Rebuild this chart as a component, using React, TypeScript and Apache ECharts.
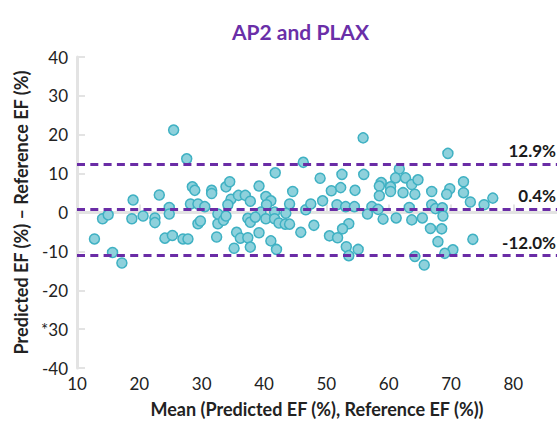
import React, { useEffect, useRef } from "react";
import * as echarts from "echarts";

const titleText = "AP2 and PLAX";
const xAxisTitle = "Mean (Predicted EF (%), Reference EF (%))";
const yAxisTitle = "Predicted EF (%) – Reference EF (%)";

const meanValues = [
  12.8, 14.1, 15.0, 15.7, 17.2, 19.0, 18.8, 20.6, 22.5, 22.5, 23.2, 24.1,
  25.5, 27.6, 24.8, 24.8, 25.3, 27.0, 27.8, 28.2, 28.5, 28.9, 29.4, 29.4,
  29.8, 30.5, 31.6, 31.6, 32.4, 32.6, 32.6, 33.5, 33.9, 33.9, 34.5, 34.7,
  34.2, 35.6, 35.9, 36.2, 35.2, 37.0, 37.4, 37.4, 37.8, 37.8, 37.8,
  46.3, 41.8, 49.0, 39.2, 40.3, 41.1, 40.4, 44.6, 44.1, 46.7, 47.5, 49.4,
  50.8, 39.5, 41.7, 38.6, 40.3, 41.7, 42.4, 43.4, 44.1, 43.5, 48.0, 45.9,
  39.2, 41.1, 42.0, 50.5,
  55.9, 52.5, 56.0, 61.7, 61.1, 62.7, 58.8, 58.5, 60.3, 60.3, 62.3, 63.7,
  64.2, 52.3, 54.6, 58.5, 51.7, 53.1, 54.5, 57.3, 58.3, 56.6, 59.1, 61.2,
  63.3, 63.7, 53.6, 52.6, 51.8, 53.2, 53.6, 55.1, 64.2,
  69.5, 64.7, 66.9, 69.8, 69.3, 72.0, 72.0, 73.1, 75.3, 76.7, 66.9, 67.5,
  68.6, 68.7, 65.4, 66.7, 68.5, 67.9, 73.5, 70.3, 69.0, 65.7,
];

const diffValues = [
  -6.8, -1.6, -0.6, -10.3, -13.0, 3.2, -1.6, -0.9, -1.4, -2.6, 4.5, -6.6,
  21.2, 13.8, 1.3, -0.4, -5.9, -6.8, -6.8, 2.2, 6.6, 5.7, 2.2, -2.9,
  -2.2, 1.5, 5.7, 4.9, -6.3, -2.9, -0.4, -2.0, -0.9, 6.6, 7.9, 3.4,
  2.0, -5.1, 4.4, -6.6, -9.2, 4.4, -1.5, -6.5, 2.9, -2.5, -8.9,
  12.9, 10.2, 8.8, 6.8, 4.1, 3.0, 2.0, 5.4, 2.2, 0.7, 2.2, 3.0,
  5.6, 0.1, 0.1, -1.2, -1.6, -1.6, -2.7, -3.0, -3.0, -0.2, -3.3, -5.1,
  -5.2, -7.3, -9.5, -6.0,
  19.2, 9.8, 9.8, 11.2, 8.9, 8.9, 7.7, 6.8, 6.6, 5.4, 5.1, 7.2,
  4.7, 6.4, 5.7, 4.3, 2.0, 1.5, 1.5, 1.5, 0.8, -0.4, -1.7, -1.4,
  1.3, -1.9, -2.9, -4.2, -6.5, -8.8, -11.1, -9.5, -11.3,
  15.2, 8.4, 5.4, 6.1, 4.7, 7.9, 5.1, 2.7, 2.0, 3.7, 2.0, 1.0,
  1.2, -0.9, -1.4, -4.1, -4.2, -7.5, -6.9, -9.6, -10.5, -13.5,
];

const limitValues = [12.5, 0.9, -11.1];
const limitLabels = ["12.9%", "0.4%", "-12.0%"];

const yTickLabels: Record<number, string> = {
  40: "40", 30: "30", 20: "20", 10: "10", 0: "0",
  [-10]: "-10", [-20]: "-20", [-30]: "*30", [-40]: "-40",
};

const FONT = "Lato";

export default function App() {
  const ref = useRef<HTMLDivElement>(null);
  useEffect(() => {
    if (!ref.current) return;
    const chart = echarts.init(ref.current, null, { renderer: "svg" });
    const points = meanValues.map((m, i) => [m, diffValues[i]]);
    const axisGray = "#e3e3e3";
    chart.setOption({
      animation: false,
      backgroundColor: "#ffffff",
      title: {
        text: titleText,
        left: 227,
        top: 16,
        textStyle: {
          fontFamily: FONT,
          fontSize: 21,
          fontWeight: "bold",
          color: "#6a2fa8",
        },
      },
      grid: { left: 77, top: 57, width: 495, height: 316 },
      xAxis: {
        type: "value",
        min: 10,
        max: 87,
        interval: 10,
        name: xAxisTitle,
        nameLocation: "middle",
        nameGap: 32,
        nameTextStyle: { fontFamily: FONT, fontSize: 18, fontWeight: "bold", color: "#222" },
        axisLine: { show: true, lineStyle: { color: axisGray, width: 3 } },
        axisTick: { show: true, inside: true, length: 8, lineStyle: { color: axisGray, width: 2 } },
        axisLabel: {
          showMaxLabel: false,
          margin: 7,
          fontFamily: FONT,
          fontSize: 17,
          color: "#222",
        },
        splitLine: { show: false },
      },
      yAxis: {
        type: "value",
        min: -40,
        max: 40,
        interval: 10,
        name: yAxisTitle,
        nameLocation: "middle",
        nameGap: 43,
        nameTextStyle: { fontFamily: FONT, fontSize: 18, fontWeight: "bold", color: "#222" },
        axisLine: { show: true, lineStyle: { color: axisGray, width: 3 } },
        axisTick: { show: true, inside: true, length: 8, lineStyle: { color: axisGray, width: 2 } },
        axisLabel: {
          margin: 9,
          fontFamily: FONT,
          fontSize: 17,
          color: "#222",
          formatter: (v: number) => yTickLabels[v] ?? String(v),
        },
        splitLine: { show: false },
      },
      series: [
        {
          type: "scatter",
          data: [],
          z: 1,
          markLine: {
            silent: true,
            symbol: ["none", "none"],
            lineStyle: { color: "#6a2ca6", width: 3, type: [8, 5.3] },
            label: {
              show: true,
              position: "insideEndTop",
              fontFamily: FONT,
              fontSize: 17,
              fontWeight: "bold",
              color: "#1a1a1a",
              distance: [1, 5],
            },
            data: limitValues.map((v, i) => ({
              yAxis: v,
              label: { formatter: limitLabels[i] },
            })),
          },
        },
        {
          type: "scatter",
          z: 3,
          symbol: "circle",
          symbolSize: 10,
          itemStyle: {
            color: "#8ed1dc",
            borderColor: "#3fb1c3",
            borderWidth: 1.5,
            opacity: 1,
          },
          data: points,
        },
      ],
    });
    return () => chart.dispose();
  }, []);
  return (
    <div
      ref={ref}
      style={{ position: "fixed", left: 0, top: 0, width: 557, height: 423, background: "#fff" }}
    />
  );
}
